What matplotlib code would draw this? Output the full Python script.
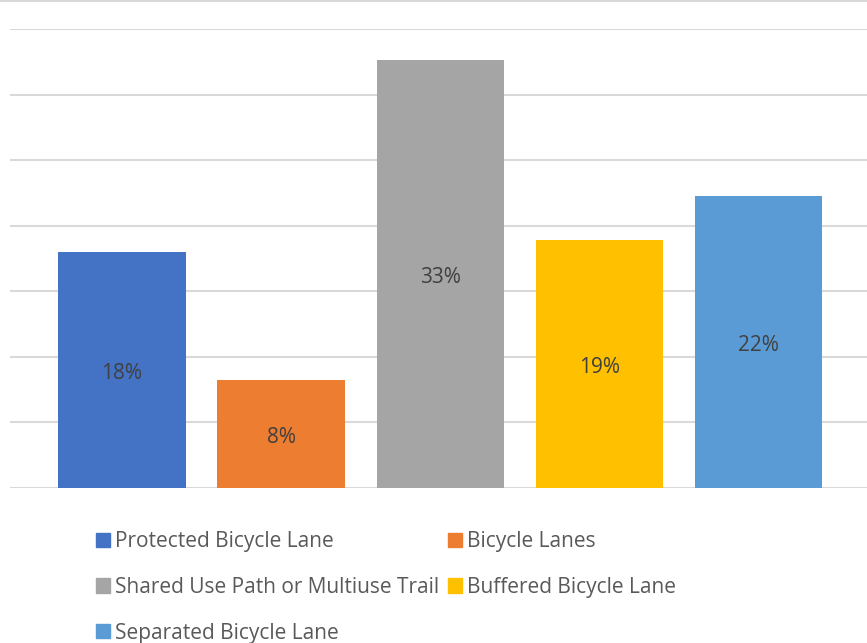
import matplotlib.pyplot as plt
from matplotlib.patches import Patch
from matplotlib.lines import Line2D

categories = ["Protected Bicycle Lane", "Bicycle Lanes", "Shared Use Path or Multiuse Trail",
              "Buffered Bicycle Lane", "Separated Bicycle Lane"]
shares = [18.0, 8.2, 32.6, 18.9, 22.3]
colors = ["#4472c4", "#ed7d31", "#a5a5a5", "#ffc000", "#5b9bd5"]

plt.rcParams['font.family'] = ['Open Sans', 'DejaVu Sans']

fig = plt.figure(figsize=(8.67, 6.43), dpi=100)
ax = fig.add_axes([10 / 867, 1 - 488 / 643, 1 - 10 / 867, (488 - 29) / 643])

xs = range(len(categories))
bars = ax.bar(xs, shares, width=0.8, color=colors, zorder=2)
for b, v in zip(bars, shares):
    ax.annotate("%.0f%%" % v, (b.get_x() + b.get_width() / 2, v / 2), xytext=(0, -2.5),
                textcoords="offset points", ha="center", va="center",
                fontsize=15, color="#404040", zorder=3)

ax.set_ylim(0, 35)
ax.set_xlim(-0.703, 4.68)
ax.set_yticks(range(0, 36, 5))
ax.yaxis.grid(True, color="#d9d9d9", linewidth=1.5, zorder=0)
ax.tick_params(left=False, bottom=False, labelleft=False, labelbottom=False)
for s in ax.spines.values():
    s.set_visible(False)

# frame edge at the top of the chart area
fig.add_artist(Line2D([0, 1], [0.999, 0.999], color="#d9d9d9", linewidth=1.5))

# legend fills column-wise, so reorder to get Excel's row-wise layout
order = [0, 2, 4, 1, 3]
handles = [Patch(color=colors[i]) for i in order]
labels = [categories[i] for i in order]
fig.legend(handles, labels, ncol=2, loc="upper left", bbox_to_anchor=(96 / 867, 1 - 531 / 643),
           frameon=False, fontsize=15, labelcolor="#595959", handlelength=0.67, handleheight=0.67,
           handletextpad=0.24, labelspacing=1.19, columnspacing=0.43, borderpad=0, borderaxespad=0)

fig.savefig("out.png", dpi=100)
